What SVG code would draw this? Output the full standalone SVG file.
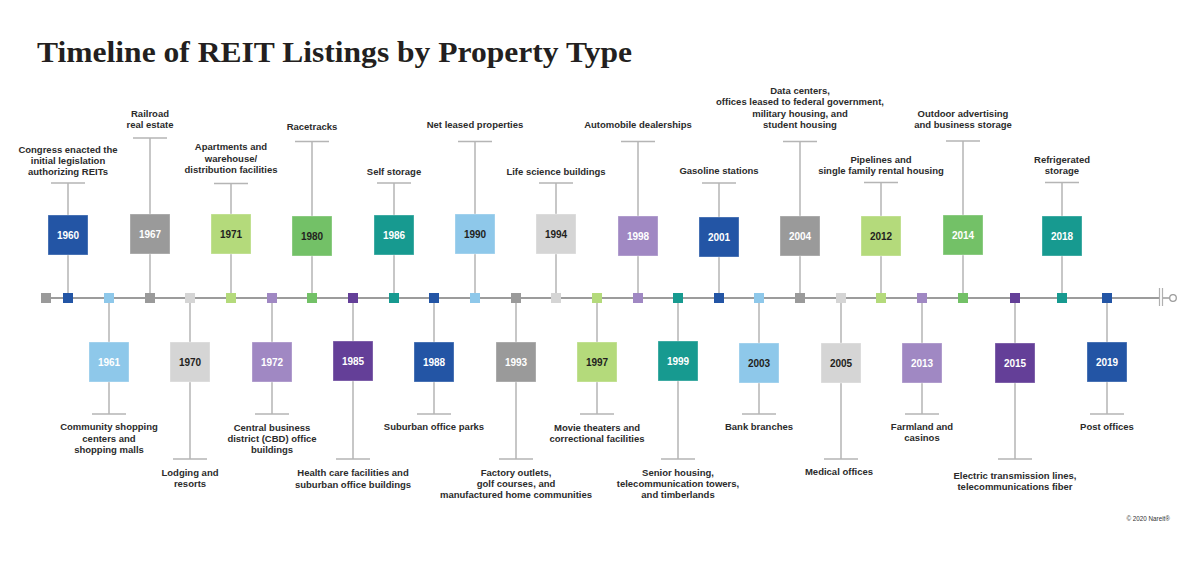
<svg xmlns="http://www.w3.org/2000/svg" width="1200" height="568" viewBox="0 0 1200 568">
<style>
.title{font-family:"Liberation Serif","Times New Roman",serif;font-weight:bold;font-size:30px;fill:#231f20}
.lbl{font-family:"Liberation Sans",Arial,sans-serif;font-weight:bold;font-size:9.5px;fill:#2b2b2b;text-anchor:middle}
.yr{font-family:"Liberation Sans",Arial,sans-serif;font-weight:bold;font-size:10px;text-anchor:middle}
.w{fill:#ffffff}
.d{fill:#231f20}
.box{stroke:#ffffff;stroke-opacity:0.35;stroke-width:1}
.con{stroke:#b5b5b5;stroke-width:1.5;fill:none}
.axis{stroke:#9c9c9c;stroke-width:2;fill:none}
.c-db{fill:#2355a5}.c-lb{fill:#8ec8ea}.c-gr{fill:#9a9a9a}.c-lg{fill:#d5d5d5}
.c-lgr{fill:#b4da7b}.c-lav{fill:#a088c3}.c-gn{fill:#73c167}.c-pu{fill:#643f98}.c-te{fill:#179a90}
.copy{font-family:"Liberation Sans",Arial,sans-serif;font-size:6.3px;fill:#333;text-anchor:end}
</style>
<rect width="1200" height="568" fill="#ffffff"/>
<text class="title" x="37" y="62" textLength="595" lengthAdjust="spacingAndGlyphs">Timeline of REIT Listings by Property Type</text>

<g id="connectors">
<!-- top -->
<path class="con" d="M68 298V183M51 183H85"/>
<path class="con" d="M150 298V138M133 138H167"/>
<path class="con" d="M231 298V183.5M214 183.5H248"/>
<path class="con" d="M312 298V141.5M295 141.5H329"/>
<path class="con" d="M394 298V183M377 183H411"/>
<path class="con" d="M475 298V141.5M458 141.5H492"/>
<path class="con" d="M556 298V183M539 183H573"/>
<path class="con" d="M638 298V141.5M621 141.5H655"/>
<path class="con" d="M719 298V183M702 183H736"/>
<path class="con" d="M800 298V141.5M783 141.5H817"/>
<path class="con" d="M881 298V182.5M864 182.5H898"/>
<path class="con" d="M963 298V141M946 141H980"/>
<path class="con" d="M1062 298V182.5M1045 182.5H1079"/>
<!-- bottom -->
<path class="con" d="M109 298V414M92 414H126"/>
<path class="con" d="M190 298V459M173 459H207"/>
<path class="con" d="M272 298V414M255 414H289"/>
<path class="con" d="M353 298V459M336 459H370"/>
<path class="con" d="M434 298V414M417 414H451"/>
<path class="con" d="M516 298V459M499 459H533"/>
<path class="con" d="M597 298V414M580 414H614"/>
<path class="con" d="M678 298V459M661 459H695"/>
<path class="con" d="M759 298V414M742 414H776"/>
<path class="con" d="M841 298V459M824 459H858"/>
<path class="con" d="M922 298V414M905 414H939"/>
<path class="con" d="M1015 298V459M998 459H1032"/>
<path class="con" d="M1107 298V414M1090 414H1124"/>
</g>

<g id="axis">
<path class="axis" d="M46 298H1159"/>
<path d="M1159.5 288V306M1162.5 288V306" stroke="#b0b0b0" stroke-width="1.2"/>
<path d="M1163 298H1169.5" stroke="#9c9c9c" stroke-width="1.5"/>
<circle cx="1173" cy="298" r="3.3" fill="#ffffff" stroke="#9c9c9c" stroke-width="1.3"/>
<rect class="c-gr" x="41" y="293" width="10" height="10"/>
<rect class="c-db" x="63" y="293" width="10" height="10"/>
<rect class="c-lb" x="104" y="293" width="10" height="10"/>
<rect class="c-gr" x="145" y="293" width="10" height="10"/>
<rect class="c-lg" x="185" y="293" width="10" height="10"/>
<rect class="c-lgr" x="226" y="293" width="10" height="10"/>
<rect class="c-lav" x="267" y="293" width="10" height="10"/>
<rect class="c-gn" x="307" y="293" width="10" height="10"/>
<rect class="c-pu" x="348" y="293" width="10" height="10"/>
<rect class="c-te" x="389" y="293" width="10" height="10"/>
<rect class="c-db" x="429" y="293" width="10" height="10"/>
<rect class="c-lb" x="470" y="293" width="10" height="10"/>
<rect class="c-gr" x="511" y="293" width="10" height="10"/>
<rect class="c-lg" x="551" y="293" width="10" height="10"/>
<rect class="c-lgr" x="592" y="293" width="10" height="10"/>
<rect class="c-lav" x="633" y="293" width="10" height="10"/>
<rect class="c-te" x="673" y="293" width="10" height="10"/>
<rect class="c-db" x="714" y="293" width="10" height="10"/>
<rect class="c-lb" x="754" y="293" width="10" height="10"/>
<rect class="c-gr" x="795" y="293" width="10" height="10"/>
<rect class="c-lg" x="836" y="293" width="10" height="10"/>
<rect class="c-lgr" x="876" y="293" width="10" height="10"/>
<rect class="c-lav" x="917" y="293" width="10" height="10"/>
<rect class="c-gn" x="958" y="293" width="10" height="10"/>
<rect class="c-pu" x="1010" y="293" width="10" height="10"/>
<rect class="c-te" x="1057" y="293" width="10" height="10"/>
<rect class="c-db" x="1102" y="293" width="10" height="10"/>
</g>

<!-- top nodes -->
<g id="n1960">
<rect class="box c-db" x="48" y="215" width="40" height="40"/>
<text class="yr w" x="68" y="238.5">1960</text>
<text class="lbl" x="68" y="152.5">Congress enacted the<tspan x="68" dy="11.3">initial legislation</tspan><tspan x="68" dy="11.3">authorizing REITs</tspan></text>
</g>
<g id="n1967">
<rect class="box c-gr" x="130" y="214" width="40" height="40"/>
<text class="yr w" x="150" y="237.5">1967</text>
<text class="lbl" x="150" y="117">Railroad<tspan x="150" dy="11.2">real estate</tspan></text>
</g>
<g id="n1971">
<rect class="box c-lgr" x="211" y="214" width="40" height="40"/>
<text class="yr d" x="231" y="237.5">1971</text>
<text class="lbl" x="231" y="150">Apartments and<tspan x="231" dy="11.6">warehouse/</tspan><tspan x="231" dy="11.4">distribution facilities</tspan></text>
</g>
<g id="n1980">
<rect class="box c-gn" x="292" y="216" width="40" height="40"/>
<text class="yr d" x="312" y="239.5">1980</text>
<text class="lbl" x="312" y="130">Racetracks</text>
</g>
<g id="n1986">
<rect class="box c-te" x="374" y="215" width="40" height="40"/>
<text class="yr w" x="394" y="238.5">1986</text>
<text class="lbl" x="394" y="175">Self storage</text>
</g>
<g id="n1990">
<rect class="box c-lb" x="455" y="214" width="40" height="40"/>
<text class="yr d" x="475" y="237.5">1990</text>
<text class="lbl" x="475" y="128">Net leased properties</text>
</g>
<g id="n1994">
<rect class="box c-lg" x="536" y="214" width="40" height="40"/>
<text class="yr d" x="556" y="237.5">1994</text>
<text class="lbl" x="556" y="174.5">Life science buildings</text>
</g>
<g id="n1998">
<rect class="box c-lav" x="618" y="216" width="40" height="40"/>
<text class="yr w" x="638" y="239.5">1998</text>
<text class="lbl" x="638" y="128">Automobile dealerships</text>
</g>
<g id="n2001">
<rect class="box c-db" x="699" y="217" width="40" height="40"/>
<text class="yr w" x="719" y="240.5">2001</text>
<text class="lbl" x="719" y="174">Gasoline stations</text>
</g>
<g id="n2004">
<rect class="box c-gr" x="780" y="216" width="40" height="40"/>
<text class="yr w" x="800" y="239.5">2004</text>
<text class="lbl" x="800" y="94">Data centers,<tspan x="800" dy="11.4">offices leased to federal government,</tspan><tspan x="800" dy="11.4">military housing, and</tspan><tspan x="800" dy="11.3">student housing</tspan></text>
</g>
<g id="n2012">
<rect class="box c-lgr" x="861" y="216" width="40" height="40"/>
<text class="yr d" x="881" y="239.5">2012</text>
<text class="lbl" x="881" y="163">Pipelines and<tspan x="881" dy="11.4">single family rental housing</tspan></text>
</g>
<g id="n2014">
<rect class="box c-gn" x="943" y="215" width="40" height="40"/>
<text class="yr w" x="963" y="238.5">2014</text>
<text class="lbl" x="963" y="117">Outdoor advertising<tspan x="963" dy="11.3">and business storage</tspan></text>
</g>
<g id="n2018">
<rect class="box c-te" x="1042" y="216" width="40" height="40"/>
<text class="yr w" x="1062" y="239.5">2018</text>
<text class="lbl" x="1062" y="163">Refrigerated<tspan x="1062" dy="11.4">storage</tspan></text>
</g>

<!-- bottom nodes -->
<g id="n1961">
<rect class="box c-lb" x="89" y="342" width="40" height="40"/>
<text class="yr w" x="109" y="365.5">1961</text>
<text class="lbl" x="109" y="430">Community shopping<tspan x="109" dy="11.5">centers and</tspan><tspan x="109" dy="11">shopping malls</tspan></text>
</g>
<g id="n1970">
<rect class="box c-lg" x="170" y="342" width="40" height="40"/>
<text class="yr d" x="190" y="365.5">1970</text>
<text class="lbl" x="190" y="476">Lodging and<tspan x="190" dy="11.4">resorts</tspan></text>
</g>
<g id="n1972">
<rect class="box c-lav" x="252" y="342" width="40" height="40"/>
<text class="yr w" x="272" y="365.5">1972</text>
<text class="lbl" x="272" y="430.5">Central business<tspan x="272" dy="11.2">district (CBD) office</tspan><tspan x="272" dy="11.3">buildings</tspan></text>
</g>
<g id="n1985">
<rect class="box c-pu" x="333" y="341" width="40" height="40"/>
<text class="yr w" x="353" y="364.5">1985</text>
<text class="lbl" x="353" y="476">Health care facilities and<tspan x="353" dy="11.5">suburban office buildings</tspan></text>
</g>
<g id="n1988">
<rect class="box c-db" x="414" y="342" width="40" height="40"/>
<text class="yr w" x="434" y="365.5">1988</text>
<text class="lbl" x="434" y="429.5">Suburban office parks</text>
</g>
<g id="n1993">
<rect class="box c-gr" x="496" y="342" width="40" height="40"/>
<text class="yr w" x="516" y="365.5">1993</text>
<text class="lbl" x="516" y="475.5">Factory outlets,<tspan x="516" dy="11.6">golf courses, and</tspan><tspan x="516" dy="11.1">manufactured home communities</tspan></text>
</g>
<g id="n1997">
<rect class="box c-lgr" x="577" y="342" width="40" height="40"/>
<text class="yr d" x="597" y="365.5">1997</text>
<text class="lbl" x="597" y="430.5">Movie theaters and<tspan x="597" dy="11.1">correctional facilities</tspan></text>
</g>
<g id="n1999">
<rect class="box c-te" x="658" y="341" width="40" height="40"/>
<text class="yr w" x="678" y="364.5">1999</text>
<text class="lbl" x="678" y="475.5">Senior housing,<tspan x="678" dy="11.6">telecommunication towers,</tspan><tspan x="678" dy="11.1">and timberlands</tspan></text>
</g>
<g id="n2003">
<rect class="box c-lb" x="739" y="343" width="40" height="40"/>
<text class="yr d" x="759" y="366.5">2003</text>
<text class="lbl" x="759" y="429.5">Bank branches</text>
</g>
<g id="n2005">
<rect class="box c-lg" x="821" y="343" width="40" height="40"/>
<text class="yr d" x="841" y="366.5">2005</text>
<text class="lbl" x="839" y="475">Medical offices</text>
</g>
<g id="n2013">
<rect class="box c-lav" x="902" y="343" width="40" height="40"/>
<text class="yr w" x="922" y="366.5">2013</text>
<text class="lbl" x="922" y="429.5">Farmland and<tspan x="922" dy="11.3">casinos</tspan></text>
</g>
<g id="n2015">
<rect class="box c-pu" x="995" y="343" width="40" height="40"/>
<text class="yr w" x="1015" y="366.5">2015</text>
<text class="lbl" x="1015" y="478.5">Electric transmission lines,<tspan x="1015" dy="11">telecommunications fiber</tspan></text>
</g>
<g id="n2019">
<rect class="box c-db" x="1087" y="342" width="40" height="40"/>
<text class="yr w" x="1107" y="365.5">2019</text>
<text class="lbl" x="1107" y="429.5">Post offices</text>
</g>

<text class="copy" x="1170" y="521">© 2020 Nareit®</text>
</svg>
